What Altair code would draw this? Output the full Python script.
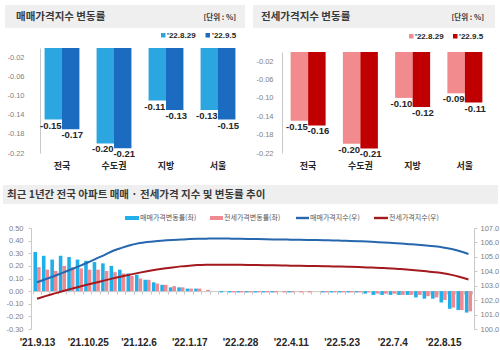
import altair as alt
import pandas as pd

KR = "Noto Sans CJK KR"
NUM = "'Liberation Sans Narrow', 'Liberation Sans', sans-serif"

# ---------------- data ----------------
regions = ["전국", "수도권", "지방", "서울"]
top_dates = ["'22.8.29", "'22.9.5"]
sale_rate_0829 = [-0.15, -0.20, -0.11, -0.13]
sale_rate_0905 = [-0.17, -0.21, -0.13, -0.15]
jeonse_rate_0829 = [-0.15, -0.20, -0.10, -0.09]
jeonse_rate_0905 = [-0.16, -0.21, -0.12, -0.11]
top_y_ticks = [-0.02, -0.06, -0.10, -0.14, -0.18, -0.22]

weeks = ["'21.9.13", "'21.9.20", "'21.9.27", "'21.10.4", "'21.10.11", "'21.10.18",
         "'21.10.25", "'21.11.1", "'21.11.8", "'21.11.15", "'21.11.22", "'21.11.29",
         "'21.12.6", "'21.12.13", "'21.12.20", "'21.12.27", "'22.1.3", "'22.1.10",
         "'22.1.17", "'22.1.24", "'22.1.31", "'22.2.7", "'22.2.14", "'22.2.21",
         "'22.2.28", "'22.3.7", "'22.3.14", "'22.3.21", "'22.3.28", "'22.4.4",
         "'22.4.11", "'22.4.18", "'22.4.25", "'22.5.2", "'22.5.9", "'22.5.16",
         "'22.5.23", "'22.5.30", "'22.6.6", "'22.6.13", "'22.6.20", "'22.6.27",
         "'22.7.4", "'22.7.11", "'22.7.18", "'22.7.25", "'22.8.1", "'22.8.8",
         "'22.8.15", "'22.8.22", "'22.8.29", "'22.9.5"]
week_ticks = ["'21.9.13", "'21.10.25", "'21.12.6", "'22.1.17", "'22.2.28",
              "'22.4.11", "'22.5.23", "'22.7.4", "'22.8.15"]

sale_weekly = [0.31, 0.28, 0.25, 0.28, 0.27, 0.25, 0.24, 0.23, 0.22, 0.20,
               0.17, 0.14, 0.13, 0.09, 0.07, 0.05, 0.03, 0.03, 0.02, 0.02,
               0.00, 0.00, -0.01, -0.01, -0.01, -0.01, -0.01, -0.01, -0.01, 0.00,
               -0.01, 0.00, 0.00, 0.00, -0.01, -0.01, -0.01, -0.01, -0.01, -0.02,
               -0.03, -0.03, -0.03, -0.03, -0.03, -0.05, -0.06, -0.06, -0.09, -0.14,
               -0.15, -0.17]
jeonse_weekly = [0.19, 0.17, 0.16, 0.20, 0.19, 0.18, 0.17, 0.17, 0.16, 0.15,
                 0.14, 0.12, 0.10, 0.09, 0.06, 0.05, 0.04, 0.03, 0.02, 0.02,
                 0.01, 0.00, 0.00, -0.01, -0.01, -0.01, -0.01, -0.01, -0.01, -0.01,
                 -0.01, -0.01, -0.01, 0.00, -0.01, -0.01, -0.01, -0.01, -0.01, -0.01,
                 -0.02, -0.02, -0.02, -0.03, -0.03, -0.03, -0.04, -0.05, -0.07, -0.13,
                 -0.15, -0.16]
sale_index = [103.24, 103.45, 103.66, 103.89, 104.12, 104.36, 104.61, 104.88, 105.14, 105.42,
              105.62, 105.80, 105.94, 106.03, 106.09, 106.13, 106.17, 106.20, 106.23, 106.25,
              106.26, 106.27, 106.27, 106.26, 106.25, 106.24, 106.23, 106.22, 106.21, 106.20,
              106.19, 106.18, 106.17, 106.16, 106.15, 106.14, 106.12, 106.10, 106.08, 106.06,
              106.03, 106.00, 105.96, 105.92, 105.88, 105.84, 105.79, 105.73, 105.65, 105.54,
              105.39, 105.20]
jeonse_index = [102.10, 102.28, 102.45, 102.62, 102.78, 102.93, 103.08, 103.22, 103.37, 103.51,
                103.64, 103.77, 103.89, 104.00, 104.10, 104.19, 104.27, 104.34, 104.39, 104.43,
                104.45, 104.46, 104.46, 104.46, 104.45, 104.44, 104.43, 104.42, 104.41, 104.40,
                104.39, 104.38, 104.37, 104.36, 104.35, 104.34, 104.33, 104.31, 104.29, 104.27,
                104.25, 104.22, 104.19, 104.15, 104.11, 104.06, 104.01, 103.94, 103.86, 103.75,
                103.60, 103.43]
left_ticks = [-0.30, -0.20, -0.10, 0.00, 0.10, 0.20, 0.30, 0.40, 0.50]
right_ticks = [100, 101, 102, 103, 104, 105, 106, 107]
bar_series = ["매매가격변동률(좌)", "전세가격변동률(좌)"]
line_series = ["매매가격지수(우)", "전세가격지수(우)"]

# ---------------- colours ----------------
C_SALE_L, C_SALE_D = "#2ba6e0", "#1b6cc0"
C_JS_L, C_JS_D = "#f28b8d", "#c00000"
C_BAR_B, C_BAR_P = "#1fb0ea", "#f08a92"
C_LINE_B, C_LINE_R = "#2667ad", "#a3191d"
BOX = "#efefef"
MINUS_FIX = "replace(format(datum.value, '.2f'), '\u2212', '-')"

W, H = 500, 350
one = pd.DataFrame({"k": [0]})


def box(x1, y1, x2, y2, color):
    return alt.Chart(one).mark_rect(color=color).encode(
        x=alt.value(x1), x2=alt.value(x2), y=alt.value(y1), y2=alt.value(y2))


def txt(t, x, y, size, weight="normal", align="left", font=KR, color="#3a3a3a"):
    return alt.Chart(one).mark_text(
        text=t, align=align, baseline="middle", fontSize=size,
        fontWeight=weight, font=font, color=color).encode(x=alt.value(x), y=alt.value(y))


def rate_panel(a, b, colors, x_range, y_range, axis_x, label_pad):
    df = pd.DataFrame({
        "region": regions + regions,
        "date": [top_dates[0]] * 4 + [top_dates[1]] * 4,
        "value": a + b,
    })
    df["label"] = [f"{v:.2f}" for v in df["value"]]
    x = alt.X("region:N", sort=regions, title=None,
              scale=alt.Scale(range=x_range, paddingInner=0.33, paddingOuter=0.165),
              axis=alt.Axis(orient="bottom", offset=-(H - y_range[0]), domain=False,
                            ticks=False, labelAngle=0, labelFont=KR, labelFontSize=9,
                            labelFontWeight="bold", labelColor="#262626", labelPadding=8.5))
    xo = alt.XOffset("date:N", sort=top_dates, scale=alt.Scale(paddingInner=0.0))
    y = alt.Y("value:Q", title=None, stack=None,
              scale=alt.Scale(domain=[-0.22, 0], range=y_range, nice=False),
              axis=alt.Axis(orient="left", offset=-axis_x, values=top_y_ticks, grid=False,
                            ticks=False, domainColor="#c8c8c8", labelExpr=MINUS_FIX,
                            labelFont=NUM, labelFontSize=7.5, labelColor="#7f7f7f",
                            labelPadding=label_pad))
    bars = alt.Chart(df).mark_bar().encode(
        x=x, xOffset=xo, y=y,
        color=alt.Color("date:N", scale=alt.Scale(domain=top_dates, range=colors), legend=None))
    lab_a = alt.Chart(df).transform_filter(alt.datum.date == top_dates[0]).mark_text(
        baseline="top", dy=1, dx=-2.5, font=NUM, fontSize=9.5, fontWeight="bold",
        color="#262626").encode(x=x, xOffset=xo, y=y, text="label:N")
    lab_b = alt.Chart(df).transform_filter(alt.datum.date == top_dates[1]).mark_text(
        baseline="top", dy=1, dx=1.5, font=NUM, fontSize=9.5, fontWeight="bold",
        color="#262626").encode(x=x, xOffset=xo, y=y, text="label:N")
    return alt.layer(bars, lab_a, lab_b)


top_left = rate_panel(sale_rate_0829, sale_rate_0905, [C_SALE_L, C_SALE_D],
                      [36, 244], [153, 48], 40, 16)
top_right = rate_panel(jeonse_rate_0829, jeonse_rate_0905, [C_JS_L, C_JS_D],
                       [282, 491], [153, 52], 282, 9)

# ---------------- bottom combo chart ----------------
B_TOP, B_BOT = 228, 329
zero_y = B_BOT - (0 - (-0.30)) / 0.80 * (B_BOT - B_TOP)
tick_list = "[" + ",".join("'" + t.replace("'", "\\'") + "'" for t in week_ticks) + "]"

bdf = pd.DataFrame({
    "week": weeks * 2,
    "series": [bar_series[0]] * len(weeks) + [bar_series[1]] * len(weeks),
    "value": sale_weekly + jeonse_weekly,
})
ldf = pd.DataFrame({
    "week": weeks * 2,
    "series": [line_series[0]] * len(weeks) + [line_series[1]] * len(weeks),
    "value": sale_index + jeonse_index,
})

bx = alt.X("week:N", sort=weeks, title=None,
           scale=alt.Scale(range=[32.8, 472.7], paddingInner=0.15, paddingOuter=0.075),
           axis=alt.Axis(orient="bottom", offset=-(H - zero_y), domain=True,
                         domainColor="#c8c8c8", ticks=True, tickSize=3, tickColor="#c8c8c8",
                         tickBand="extent", labelAngle=0,
                         labelExpr=f"indexof({tick_list}, datum.value) >= 0 ? datum.value : ''",
                         labelFont=NUM, labelFontSize=10, labelFontWeight="bold",
                         labelColor="#262626", labelPadding=B_BOT - zero_y + 5,
                         labelOverlap=False))

bars_b = alt.Chart(bdf).mark_bar().encode(
    x=bx,
    xOffset=alt.XOffset("series:N", sort=bar_series, scale=alt.Scale(paddingInner=0.0)),
    y=alt.Y("value:Q", title=None, stack=None,
            scale=alt.Scale(domain=[-0.30, 0.50], range=[B_BOT, B_TOP], nice=False),
            axis=alt.Axis(orient="left", offset=-31, values=left_ticks, grid=False,
                          tickSize=3, tickColor="#c8c8c8", domainColor="#c8c8c8",
                          labelExpr=MINUS_FIX, labelFont=NUM, labelFontSize=7.5,
                          labelColor="#7f7f7f", labelPadding=5)),
    color=alt.Color("series:N", scale=alt.Scale(domain=bar_series, range=[C_BAR_B, C_BAR_P]),
                    legend=None),
)

lines_b = alt.Chart(ldf).mark_line(strokeWidth=2, interpolate="monotone").encode(
    x=bx,
    y=alt.Y("value:Q", title=None,
            scale=alt.Scale(domain=[100, 107], range=[B_BOT, B_TOP], nice=False, zero=False),
            axis=alt.Axis(orient="right", offset=-(W - 474), values=right_ticks, format=".1f",
                          grid=False, tickSize=3, tickColor="#c8c8c8", domainColor="#c8c8c8",
                          labelFont=NUM, labelFontSize=7.5, labelColor="#7f7f7f",
                          labelPadding=3)),
    color=alt.Color("series:N", scale=alt.Scale(domain=line_series, range=[C_LINE_B, C_LINE_R]),
                    legend=None),
)

bottom = alt.layer(bars_b, lines_b).resolve_scale(y="independent", color="independent")

# ---------------- titles, legends ----------------
deco = [
    box(5, 5, 245, 28, BOX),
    box(253, 5, 495, 28, BOX),
    box(3, 185, 498, 204, BOX),
    txt("매매가격지수 변동률", 16, 17, 10.5, "bold"),
    txt("전세가격지수 변동률", 261, 17, 10.5, "bold"),
    txt("[단위 : %]", 236, 18, 7.5, "bold", align="right"),
    txt("[단위 : %]", 484, 18, 7.5, "bold", align="right"),
    txt("최근 1년간 전국 아파트 매매 · 전세가격 지수 및 변동률 추이", 7, 195, 10.5, "bold"),
    # top-left legend
    box(161, 33, 165.5, 37.5, C_SALE_L),
    txt(top_dates[0], 167, 35.5, 8, "bold", font=NUM, color="#262626"),
    box(205.5, 33, 210, 37.5, C_SALE_D),
    txt(top_dates[1], 212, 35.5, 8, "bold", font=NUM, color="#262626"),
    # top-right legend
    box(409, 34, 413.5, 38.5, C_JS_L),
    txt(top_dates[0], 415, 36.5, 8, "bold", font=NUM, color="#262626"),
    box(453, 34, 457.5, 38.5, C_JS_D),
    txt(top_dates[1], 459, 36.5, 8, "bold", font=NUM, color="#262626"),
    # bottom legend
    box(125, 216, 139, 220, C_BAR_B),
    txt(bar_series[0], 140, 218, 7, color="#595959"),
    box(210, 216, 223, 220, C_BAR_P),
    txt(bar_series[1], 224, 218, 7, color="#595959"),
    box(296, 216.8, 309, 219.2, C_LINE_B),
    txt(line_series[0], 310, 218, 7, color="#595959"),
    box(374, 216.8, 388, 219.2, C_LINE_R),
    txt(line_series[1], 389, 218, 7, color="#595959"),
]

chart = alt.layer(*deco, top_left, top_right, bottom).resolve_scale(
    x="independent", y="independent", color="independent", xOffset="independent"
).properties(
    width=W, height=H, padding=0, autosize=alt.AutoSizeParams(type="none"),
    background="white",
).configure_view(stroke=None)

chart.save("out.html", embed_options={"renderer": "svg", "actions": False})
